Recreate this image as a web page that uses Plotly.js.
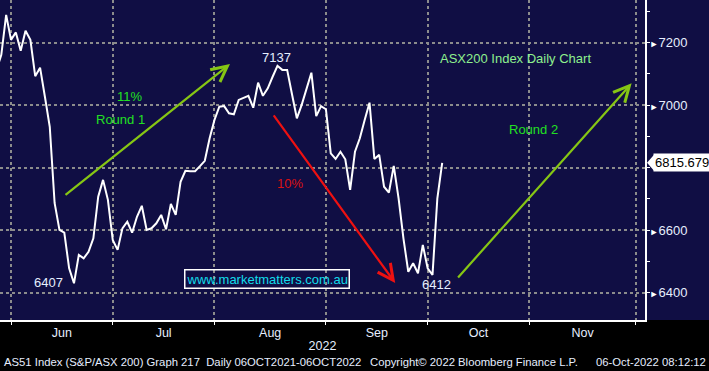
<!DOCTYPE html>
<html><head><meta charset="utf-8">
<script src="https://cdn.plot.ly/plotly-3.0.1.min.js"></script>
<style>html,body{margin:0;padding:0;background:#000;}#chart{width:709px;height:371px;}</style>
</head><body><div id="chart"></div>
<script>
// ---- data ----
const firstDay = '2022-05-27';
const calendarEnd = '2022-12-02';
const holidays = ['2022-06-13', '2022-09-22'];
// ASX200 daily closes, 27-May-2022 .. 06-Oct-2022 (one per trading day)
const closes = [
  7113, 7161, 7289,
  7209, 7233, 7174, 7238, 7209, 7093, 7120, 7027, 6931, 6687,
  6601, 6592, 6478, 6430, 6521, 6510, 6531, 6574, 6707, 6761,
  6697, 6569, 6537, 6606, 6627, 6592, 6643, 6678, 6601, 6606,
  6622, 6649, 6603, 6684, 6649, 6755, 6790, 6789, 6789, 6805,
  6822, 6894, 6953, 6995, 6997, 6974, 6971, 7017, 7023, 7030,
  6992, 7072, 7030, 7054, 7091, 7126, 7113, 7113, 7035, 6958,
  7001, 7049, 7104, 6965, 6997, 6987, 6846, 6828, 6851, 6827,
  6729, 6851, 6894, 6953, 7008, 6828, 6841, 6739, 6720, 6806,
  6702, 6574, 6467, 6494, 6462, 6553, 6478, 6457, 6702, 6815.679
];
const monthLabels = ['Jun', 'Jul', 'Aug', 'Sep', 'Oct', 'Nov'];
const yTicks = [6400, 6600, 6800, 7000, 7200];
const lastValue = 6815.679;
const highLabel = '7137', lowLabel1 = '6407', lowLabel2 = '6412';

// ---- trading-day calendar ----
function tradingDays(start, end) {
  const out = [];
  const d = new Date(start + 'T00:00:00Z');
  const e = new Date(end + 'T00:00:00Z');
  while (d <= e) {
    const iso = d.toISOString().slice(0, 10);
    const wd = d.getUTCDay();
    if (wd !== 0 && wd !== 6 && !holidays.includes(iso)) out.push(iso);
    d.setUTCDate(d.getUTCDate() + 1);
  }
  return out;
}
const days = tradingDays(firstDay, calendarEnd);
const xs = closes.map((_, i) => i);
const monthStarts = [];
for (let i = 1; i < days.length; i++) {
  if (days[i].slice(5, 7) !== days[i - 1].slice(5, 7)) monthStarts.push(i);
}
const labelPos = monthLabels.map((_, k) => (monthStarts[k] + monthStarts[k + 1]) / 2);

const xRange = [0.73, 133.86];
const yRange = [6312.6, 7336.6];
const yPaper = v => (v - yRange[0]) / (yRange[1] - yRange[0]);

const NAVY = '#100e44';
const GRID = '#8c8c8c';
const LBL = '#e6eeff';
const GREEN_TXT = '#22e022';
const ARROW_G = '#86c614';
const sans = 'Liberation Sans, Arial, sans-serif';

const trace = {
  x: xs, y: closes, type: 'scatter', mode: 'lines',
  line: {color: '#ffffff', width: 2}, hoverinfo: 'skip', xaxis: 'x', yaxis: 'y'
};
const gridTrace = {x: [monthStarts[0]], y: [closes[0]], type: 'scatter', mode: 'markers',
  marker: {opacity: 0}, hoverinfo: 'skip', xaxis: 'x2', yaxis: 'y', showlegend: false};

function txt(x, y, text, color, size, fam) {
  return {x, y, xref: 'x', yref: 'y', text, showarrow: false,
    font: {color, size: size || 13, family: fam || sans}, xanchor: 'center', yanchor: 'middle'};
}
function arrow(x0, y0, x1, y1, color) {
  return {x: x1, y: y1, ax: x0, ay: y0, xref: 'x', yref: 'y', axref: 'x', ayref: 'y',
    text: '', showarrow: true, arrowhead: 5, arrowsize: 1.4, arrowwidth: 2.2, arrowcolor: color};
}

const footFont = {color: LBL, size: 11.3, family: sans};
const annotations = [
  arrow(13.94, 6709, 48.2, 7132, ARROW_G),
  arrow(57.0, 6972, 82.3, 6431, '#ee1111'),
  arrow(95.0, 6444, 131.1, 7070, ARROW_G),
  txt(57.8, 7154, highLabel, LBL, 13),
  txt(10.84, 6434, lowLabel1, LBL, 13),
  txt(90.9, 6425, lowLabel2, LBL, 13),
  txt(27.56, 7029, '11%', GREEN_TXT, 13),
  txt(25.7, 6953, 'Round 1', GREEN_TXT, 13),
  txt(60.6, 6751, '10%', '#dd1111', 13),
  txt(110.9, 6921, 'Round 2', GREEN_TXT, 13),
  txt(107.2, 7148, 'ASX200 Index Daily Chart', '#8ef08e', 13),
  Object.assign(txt(55.8, 6444, 'www.marketmatters.com.au', '#10dcea', 13),
    {bordercolor: '#ffffff', borderwidth: 1.5, borderpad: 1}),
  {xref: 'paper', yref: 'y', x: 653 / 645, y: lastValue, xanchor: 'left', yanchor: 'middle',
    text: '6815.679', showarrow: false, bgcolor: '#ffffff', borderpad: 1,
    font: {color: '#000000', size: 13, family: sans}},
  {xref: 'paper', yref: 'paper', x: 2 / 645, y: -42 / 320, xanchor: 'left', yanchor: 'middle',
    text: 'AS51 Index (S&P/ASX 200) Graph 217&nbsp;&nbsp;Daily 06OCT2021-06OCT2022', showarrow: false,
    font: footFont},
  {xref: 'paper', yref: 'paper', x: 368 / 645, y: -42 / 320, xanchor: 'left', yanchor: 'middle',
    text: 'Copyright© 2022 Bloomberg Finance L.P.', showarrow: false, font: footFont},
  {xref: 'paper', yref: 'paper', x: 708 / 645, y: -42 / 320, xanchor: 'right', yanchor: 'middle',
    text: '06-Oct-2022 08:12:12', showarrow: false, font: footFont}
];

const tagY = yPaper(lastValue);
const shapes = [
  {type: 'rect', xref: 'paper', yref: 'paper', x0: 0, x1: 709 / 645, y0: 0, y1: 1,
    fillcolor: NAVY, line: {width: 0}, layer: 'below'},
  {type: 'path', xref: 'paper', yref: 'paper',
    path: `M ${654 / 645} ${tagY + 8 / 320} L ${647 / 645} ${tagY} L ${654 / 645} ${tagY - 8 / 320} Z`,
    fillcolor: '#ffffff', line: {width: 0}, layer: 'above'}
];

const layout = {
  width: 709, height: 371,
  margin: {l: 0, r: 64, t: 0, b: 51, pad: 0},
  paper_bgcolor: '#000000', plot_bgcolor: NAVY,
  showlegend: false,
  font: {family: sans, color: LBL, size: 12},
  xaxis: {
    range: xRange, tickmode: 'array', tickvals: labelPos, ticktext: monthLabels,
    ticks: '', showgrid: false, zeroline: false, showline: true, linecolor: '#ffffff', linewidth: 2,
    tickfont: {family: sans, size: 12.5, color: LBL},
    title: {text: '2022', font: {family: sans, size: 12.5, color: LBL}, standoff: 2}
  },
  xaxis2: {
    range: xRange, overlaying: 'x', anchor: 'y', side: 'bottom',
    tickmode: 'array', tickvals: monthStarts, ticktext: monthStarts.map(() => ''),
    ticks: 'outside', ticklen: 4, tickcolor: '#ffffff', tickwidth: 1,
    showgrid: true, gridcolor: GRID, gridwidth: 2, griddash: 'dot', zeroline: false, showline: false
  },
  yaxis: {
    range: yRange, side: 'right', tickmode: 'array', tickvals: yTicks,
    // the 6800 label sits under the last-value tag, as in the reference
    ticktext: yTicks.map(v => v === 6800 ? '' : '<span style="font-size:9px;color:#ffffff">►</span>' + v),
    ticks: '', showgrid: true, gridcolor: GRID, gridwidth: 2, griddash: 'dot', zeroline: false,
    showline: true, linecolor: '#ffffff', linewidth: 2,
    tickfont: {family: sans, size: 13, color: LBL},
    minor: {dtick: 100, tick0: 6300, ticks: 'outside', ticklen: 3, tickcolor: '#ffffff', showgrid: false}
  },
  annotations, shapes
};

Plotly.newPlot('chart', [trace, gridTrace], layout, {displayModeBar: false, staticPlot: true});
</script>
</body></html>
